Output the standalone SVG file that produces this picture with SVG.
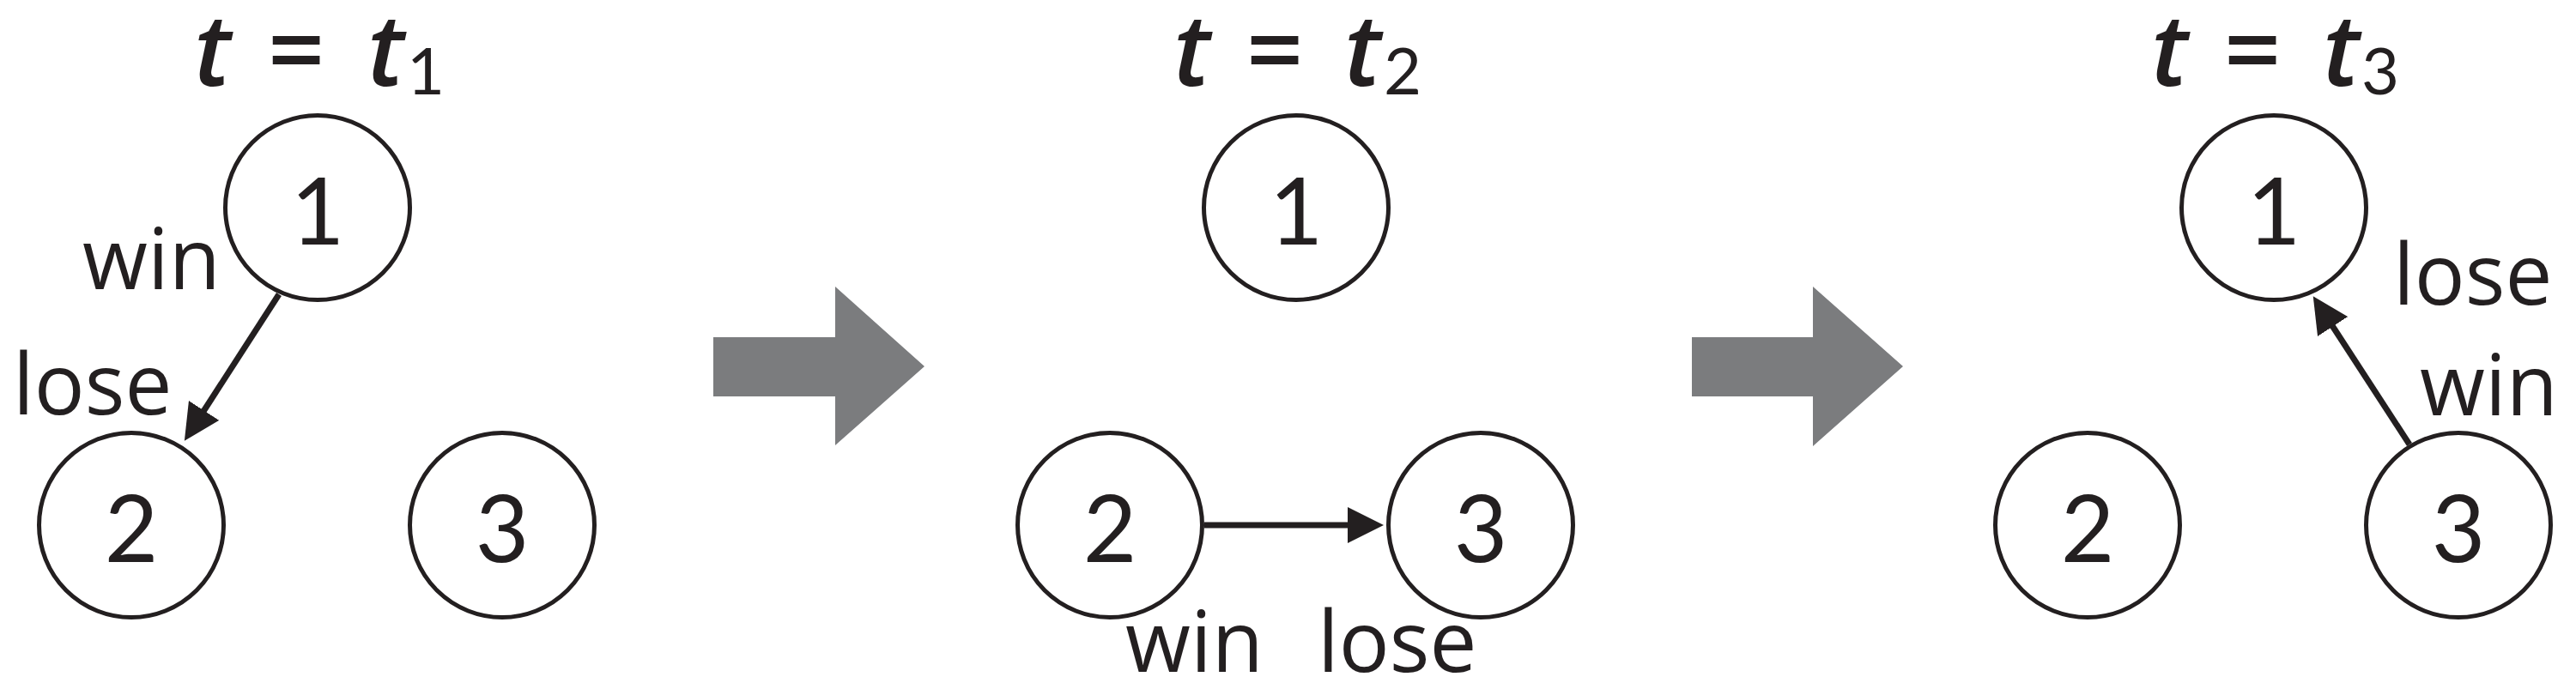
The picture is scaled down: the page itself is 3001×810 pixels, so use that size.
<svg xmlns="http://www.w3.org/2000/svg" width="3001" height="810" viewBox="0 0 3001 810">
<style>
.node{fill:#fff;stroke:#231f20;stroke-width:5}
.num{font-family:Lato,"Open Sans","Liberation Sans",sans-serif;font-size:108px;fill:#231f20;text-anchor:middle}
.lbl{font-family:"Open Sans","Liberation Sans",sans-serif;font-size:98px;fill:#231f20}
.ttl{font-family:"Open Sans","Liberation Sans",sans-serif;font-size:116px;font-weight:600;fill:#231f20}
.it{font-style:italic}
.sub{font-family:Lato,"Open Sans",sans-serif;font-size:76px;font-weight:400}
.edge{stroke:#231f20;stroke-width:7;fill:none;marker-end:url(#ah)}
.big{fill:#7b7c7e}
</style>
<defs>
<marker id="ah" markerUnits="userSpaceOnUse" viewBox="0 0 42 42" refX="3" refY="21" markerWidth="42" markerHeight="42" orient="auto">
<path d="M0,0 L42,21 L0,42 z" fill="#231f20"/>
</marker>
</defs>
<rect width="3001" height="810" fill="#fff"/>

<!-- titles -->
<text class="ttl" y="100"><tspan class="it" x="226">t</tspan><tspan x="312">=</tspan><tspan class="it" x="428">t</tspan><tspan class="sub" x="474" y="110">1</tspan></text>
<text class="ttl" y="100"><tspan class="it" x="1367">t</tspan><tspan x="1452">=</tspan><tspan class="it" x="1566">t</tspan><tspan class="sub" x="1612" y="110">2</tspan></text>
<text class="ttl" y="100"><tspan class="it" x="2506">t</tspan><tspan x="2591">=</tspan><tspan class="it" x="2706">t</tspan><tspan class="sub" x="2751" y="110">3</tspan></text>

<!-- big transition arrows -->
<polygon class="big" points="831,393 973,393 973,334 1077,427 973,519 973,462 831,462"/>
<polygon class="big" points="1971,393 2112,393 2112,334 2217,427 2112,520 2112,462 1971,462"/>

<!-- connectors -->
<g id="connectors">
<line class="edge" x1="325" y1="343" x2="236" y2="481"/>
<line class="edge" x1="1403" y1="612" x2="1573" y2="612"/>
<line class="edge" x1="2807" y1="518" x2="2716" y2="378"/>
</g>

<!-- panel 1 -->
<g id="p1-n1"><circle class="node" cx="370" cy="242" r="107.5"/><text class="num" x="370" y="285">1</text></g>
<g id="p1-n2"><circle class="node" cx="153" cy="612" r="107.5"/><text class="num" x="153" y="655">2</text></g>
<g id="p1-n3"><circle class="node" cx="585" cy="612" r="107.5"/><text class="num" x="585" y="655">3</text></g>
<text class="lbl" x="96" y="337">win</text>
<text class="lbl" x="15" y="483">lose</text>

<!-- panel 2 -->
<g id="p2-n1"><circle class="node" cx="1510" cy="242" r="107.5"/><text class="num" x="1510" y="285">1</text></g>
<g id="p2-n2"><circle class="node" cx="1293" cy="612" r="107.5"/><text class="num" x="1293" y="655">2</text></g>
<g id="p2-n3"><circle class="node" cx="1725" cy="612" r="107.5"/><text class="num" x="1725" y="655">3</text></g>
<text class="lbl" x="1311" y="783">win</text>
<text class="lbl" x="1535" y="783">lose</text>

<!-- panel 3 -->
<g id="p3-n1"><circle class="node" cx="2649" cy="242" r="107.5"/><text class="num" x="2649" y="285">1</text></g>
<g id="p3-n2"><circle class="node" cx="2432" cy="612" r="107.5"/><text class="num" x="2432" y="655">2</text></g>
<g id="p3-n3"><circle class="node" cx="2864" cy="612" r="107.5"/><text class="num" x="2864" y="655">3</text></g>
<text class="lbl" x="2788" y="355">lose</text>
<text class="lbl" x="2819" y="484">win</text>
</svg>
